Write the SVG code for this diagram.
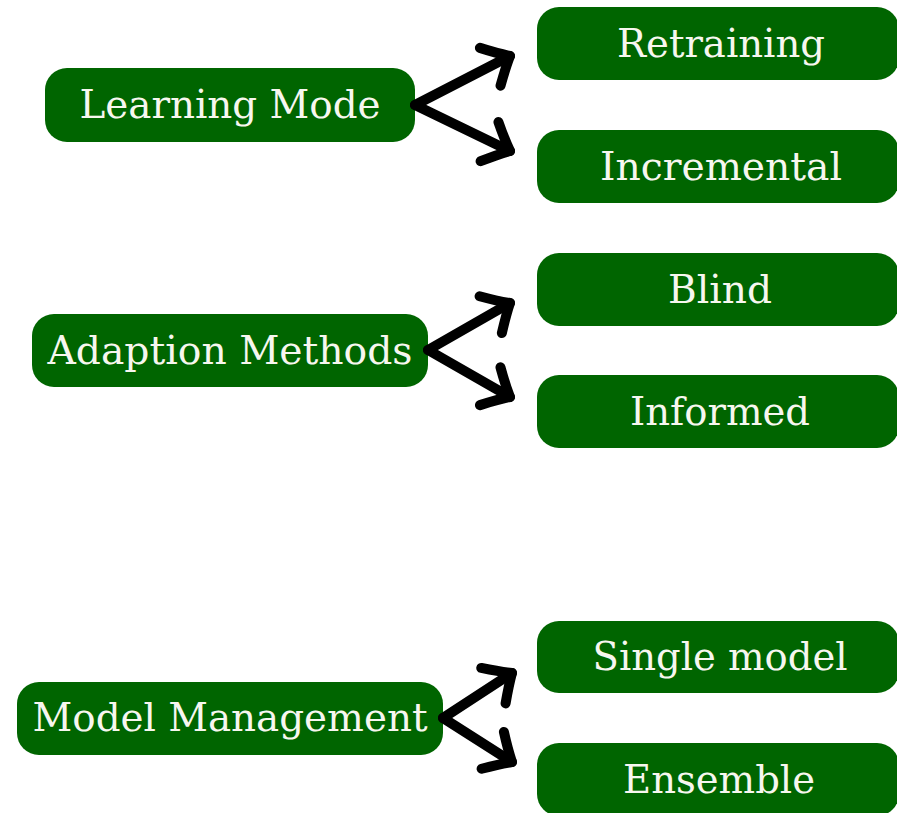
<svg xmlns="http://www.w3.org/2000/svg" width="897" height="813" viewBox="0 0 897 813">
  <style>
    .box { fill: #006500; }
    .label { fill: #f7f7ef; font-family: "DejaVu Serif", "Liberation Serif", serif; font-size: 40px; text-anchor: middle; }
    .link { fill: none; stroke: #000; stroke-width: 10; stroke-linecap: round; stroke-linejoin: round; }
  </style>
  <defs>
    <!-- open chevron head, turned along each connector -->
    <marker id="head" markerUnits="userSpaceOnUse" viewBox="-40 -40 60 80" refX="0" refY="0" markerWidth="60" markerHeight="80" orient="auto" overflow="visible">
      <path d="M-23,-21 Q-10,-8 0,0 Q-9,8 -22,22" fill="none" stroke="#000" stroke-width="10" stroke-linecap="round" stroke-linejoin="round"/>
    </marker>
  </defs>
  <rect width="897" height="813" fill="#fff"/>

  <!-- parent nodes -->
  <g id="learning-mode">
    <rect class="box" x="45" y="68" width="370" height="74" rx="22"/>
    <text class="label" x="230" y="118" textLength="301" lengthAdjust="spacingAndGlyphs">Learning Mode</text>
  </g>
  <g id="adaption-methods">
    <rect class="box" x="32" y="314" width="396" height="73" rx="22"/>
    <text class="label" x="230" y="364" textLength="365" lengthAdjust="spacingAndGlyphs">Adaption Methods</text>
  </g>
  <g id="model-management">
    <rect class="box" x="17" y="682" width="426" height="73" rx="22"/>
    <text class="label" x="230" y="731" textLength="395" lengthAdjust="spacingAndGlyphs">Model Management</text>
  </g>

  <!-- child nodes -->
  <g id="retraining">
    <rect class="box" x="537" y="7" width="362" height="73" rx="22"/>
    <text class="label" x="721" y="57" textLength="208" lengthAdjust="spacingAndGlyphs">Retraining</text>
  </g>
  <g id="incremental">
    <rect class="box" x="537" y="130" width="362" height="73" rx="22"/>
    <text class="label" x="721" y="180" textLength="242" lengthAdjust="spacingAndGlyphs">Incremental</text>
  </g>
  <g id="blind">
    <rect class="box" x="537" y="253" width="362" height="73" rx="22"/>
    <text class="label" x="720" y="303" textLength="104" lengthAdjust="spacingAndGlyphs">Blind</text>
  </g>
  <g id="informed">
    <rect class="box" x="537" y="375" width="362" height="73" rx="22"/>
    <text class="label" x="720" y="425" textLength="180" lengthAdjust="spacingAndGlyphs">Informed</text>
  </g>
  <g id="single-model">
    <rect class="box" x="537" y="621" width="362" height="72" rx="22"/>
    <text class="label" x="720" y="670" textLength="255" lengthAdjust="spacingAndGlyphs">Single model</text>
  </g>
  <g id="ensemble">
    <rect class="box" x="537" y="743" width="362" height="73" rx="22"/>
    <text class="label" x="719" y="793" textLength="192" lengthAdjust="spacingAndGlyphs">Ensemble</text>
  </g>

  <!-- connectors -->
  <g id="connectors">
    <path class="link" marker-end="url(#head)" d="M415,105 L510,56"/>
    <path class="link" marker-end="url(#head)" d="M415,105 L510,151"/>
    <path class="link" marker-end="url(#head)" d="M428,350 L510,303"/>
    <path class="link" marker-end="url(#head)" d="M428,350 L510,397"/>
    <path class="link" marker-end="url(#head)" d="M443,718 L512,673"/>
    <path class="link" marker-end="url(#head)" d="M443,718 L512,762"/>
  </g>
</svg>
